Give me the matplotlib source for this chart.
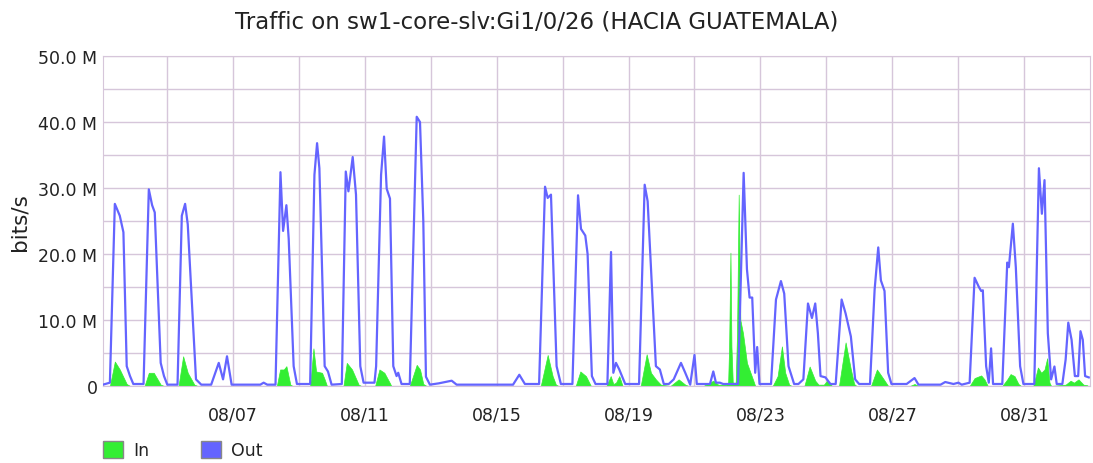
import matplotlib
matplotlib.use("Agg")
import matplotlib.pyplot as plt
from matplotlib.patches import Patch
import numpy as np

# time axis in days of August, values in Mbit/s
out_days = [3.07, 3.28, 3.43, 3.58, 3.69, 3.79, 3.89, 3.99, 4.30, 4.46, 4.56, 4.64, 4.82, 4.92,
            5.02, 5.33, 5.46, 5.56, 5.64, 5.89, 6.05, 6.35, 6.58, 6.71, 6.83, 6.97, 7.84, 7.94,
            8.05, 8.30, 8.45, 8.53, 8.63, 8.70, 8.85, 8.95, 9.35, 9.48, 9.56, 9.63, 9.79, 9.89,
            10.00, 10.31, 10.43, 10.51, 10.64, 10.74, 10.87, 10.97, 11.30, 11.35, 11.50, 11.59,
            11.67, 11.77, 11.87, 11.97, 12.02, 12.12, 12.37, 12.58, 12.68, 12.78, 12.86, 12.98,
            13.25, 13.45, 13.64, 13.79, 15.50, 15.69, 15.86, 16.29, 16.47, 16.55, 16.65, 16.82,
            16.95, 17.30, 17.47, 17.56, 17.69, 17.76, 17.89, 18.00, 18.36, 18.47, 18.54, 18.62,
            18.72, 18.90, 19.32, 19.49, 19.58, 19.83, 19.95, 20.07, 20.22, 20.37, 20.59, 20.72,
            20.87, 21.00, 21.07, 21.47, 21.57, 21.65, 21.77, 21.87, 22.32, 22.49, 22.59, 22.67,
            22.75, 22.84, 22.90, 22.97, 23.32, 23.47, 23.62, 23.72, 23.85, 24.02, 24.15, 24.30,
            24.44, 24.56, 24.66, 24.74, 24.82, 24.97, 25.12, 25.28, 25.46, 25.58, 25.74, 25.87,
            25.99, 26.32, 26.46, 26.57, 26.65, 26.76, 26.87, 26.97, 27.43, 27.67, 27.79, 28.46,
            28.60, 28.85, 29.00, 29.10, 29.34, 29.49, 29.62, 29.69, 29.74, 29.84, 29.92, 29.99,
            30.05, 30.33, 30.48, 30.53, 30.65, 30.74, 30.87, 30.97, 31.30, 31.44, 31.53, 31.61,
            31.71, 31.81, 31.91, 31.98, 32.15, 32.25, 32.33, 32.43, 32.53, 32.63, 32.70, 32.77,
            32.84, 32.95]
out_vals = [0.2, 0.5, 27.6, 25.8, 23.3, 3.0, 1.5, 0.3, 0.3, 29.8, 27.4, 26.3, 3.5, 1.5,
            0.2, 0.2, 25.8, 27.6, 24.5, 1.0, 0.2, 0.2, 3.5, 1.0, 4.5, 0.2, 0.2, 0.5,
            0.2, 0.2, 32.4, 23.5, 27.4, 22.3, 3.0, 0.3, 0.3, 32.0, 36.8, 33.0, 3.0, 2.2,
            0.2, 0.3, 32.5, 29.5, 34.7, 29.0, 3.0, 0.5, 0.5, 3.0, 32.0, 37.8,
            29.9, 28.4, 3.0, 1.5, 2.0, 0.3, 0.3, 40.8, 40.0, 25.0, 1.4, 0.2,
            0.4, 0.6, 0.8, 0.2, 0.2, 1.7, 0.3, 0.3, 30.2, 28.5, 29.0, 3.0,
            0.3, 0.3, 28.9, 23.8, 22.8, 20.0, 1.5, 0.3, 0.3, 20.3, 2.0, 3.5,
            2.5, 0.3, 0.3, 30.5, 28.0, 3.0, 2.5, 0.3, 0.3, 1.0, 3.5, 2.0,
            0.2, 4.7, 0.3, 0.3, 2.2, 0.5, 0.5, 0.3, 0.3, 32.3, 17.7, 13.4,
            13.4, 2.0, 5.9, 0.3, 0.3, 13.1, 15.9, 14.0, 3.0, 0.3, 0.3, 1.0,
            12.5, 10.3, 12.5, 8.0, 1.5, 1.3, 0.3, 0.3, 13.1, 11.0, 7.5, 1.0,
            0.3, 0.3, 14.6, 21.0, 16.0, 14.4, 2.0, 0.3, 0.3, 1.2, 0.2, 0.2,
            0.6, 0.3, 0.5, 0.2, 0.5, 16.4, 15.0, 14.4, 14.5, 3.0, 0.5, 5.7,
            0.3, 0.3, 18.7, 18.0, 24.6, 18.0, 3.0, 0.3, 0.3, 33.0, 26.1, 31.2,
            8.0, 1.0, 2.95, 0.3, 0.3, 4.0, 9.6, 7.0, 1.5, 1.5, 8.3, 7.0,
            1.5, 1.3]

in_days = [3.07, 3.28, 3.43, 3.58, 3.79, 3.89, 4.33, 4.46, 4.61, 4.82, 4.92, 5.36, 5.50, 5.64,
           5.84, 5.94, 8.34, 8.44, 8.55, 8.63, 8.75, 8.82, 9.35, 9.45, 9.53, 9.71, 9.79, 9.86,
           10.36, 10.46, 10.62, 10.82, 10.90, 11.32, 11.45, 11.60, 11.76, 11.81, 12.37, 12.58,
           12.68, 12.78, 12.88, 16.34, 16.55, 16.70, 16.80, 16.88, 17.40, 17.54, 17.71, 17.86,
           18.33, 18.46, 18.54, 18.62, 18.72, 18.82, 19.37, 19.55, 19.68, 19.83, 19.98, 20.27,
           20.52, 20.72, 20.82, 21.27, 21.57, 21.72, 21.97, 22.02, 22.05, 22.09, 22.12, 22.16,
           22.25, 22.29, 22.34, 22.39, 22.47, 22.59, 22.77, 22.84, 23.37, 23.52, 23.65, 23.75,
           23.87, 23.95, 24.33, 24.49, 24.66, 24.76, 24.92, 25.02, 25.17, 25.38, 25.58, 25.74,
           25.84, 25.91, 26.35, 26.53, 26.71, 26.87, 27.53, 27.67, 27.79, 29.34, 29.49, 29.69,
           29.79, 29.89, 30.33, 30.48, 30.58, 30.70, 30.82, 30.90, 31.27, 31.41, 31.51, 31.61,
           31.69, 31.76, 31.81, 32.25, 32.40, 32.50, 32.64, 32.79, 32.91]
in_vals = [0, 0, 3.7, 2.5, 0.3, 0, 0, 2.0, 2.0, 0.2, 0, 0, 4.5, 2.0,
           0.2, 0, 0, 2.5, 2.5, 3.0, 0.2, 0, 0, 5.7, 2.2, 2.0, 1.0, 0,
           0, 3.5, 2.5, 0.2, 0, 0, 2.5, 2.0, 0.5, 0, 0, 3.2,
           2.5, 0.3, 0, 0, 4.7, 1.5, 0.2, 0, 0, 2.2, 1.5, 0,
           0, 1.5, 0.3, 0.5, 1.5, 0, 0, 4.8, 2.0, 1.0, 0.2, 0,
           1.0, 0.2, 0, 0, 0.8, 0.2, 0.2, 0.5, 6.0, 20.2, 6.0, 0.5,
           0.5, 8.0, 29.0, 10.0, 8.0, 3.5, 1.0, 0, 0, 1.5, 6.0, 2.0,
           0.2, 0, 0, 2.95, 0.8, 0.2, 0.2, 0.8, 0, 0, 6.6, 2.5,
           0.3, 0, 0, 2.5, 1.2, 0, 0, 0.3, 0, 0, 1.2, 1.6,
           1.0, 0, 0, 1.0, 1.8, 1.5, 0.3, 0, 0, 2.8, 2.0, 2.5,
           4.2, 0.5, 0, 0.2, 0.8, 0.5, 1.0, 0.2, 0.1]

label_days = [7, 11, 15, 19, 23, 27, 31]
y_ticks = [0, 10, 20, 30, 40, 50]

grid_col = "#d6c6da"
in_col = "#33ee33"
out_col = "#6464ff"

fig = plt.figure(figsize=(10.93, 4.64), dpi=100)
ax = fig.add_axes([0.0942, 0.166, 0.9028, 0.711])

ax.fill_between(np.array(in_days), np.array(in_vals) * 1e6, 0, color=in_col, lw=0.5, zorder=2)
ax.plot(np.array(out_days), np.array(out_vals) * 1e6, color=out_col, lw=1.6, zorder=3)

ax.set_xlim(3.07, 32.98)
ax.set_ylim(0, 50e6)

ax.set_xticks(label_days)
ax.set_xticklabels(["08/%02d" % d for d in label_days])
ax.set_xticks(np.arange(5, 33, 2), minor=True)
ax.set_yticks([v * 1e6 for v in y_ticks])
ax.set_yticklabels(["0" if v == 0 else "%.1f M" % v for v in y_ticks])
ax.set_yticks(np.arange(5, 50, 10) * 1e6, minor=True)

ax.grid(True, which="both", color=grid_col, lw=1, zorder=0)
ax.set_axisbelow(True)
ax.tick_params(which="both", length=0, labelsize=12.5, colors="#222222")
ax.tick_params(axis="x", pad=14)
ax.tick_params(axis="y", pad=4)
for s in ax.spines.values():
    s.set_color(grid_col)

ax.set_ylabel("bits/s", fontsize=15.5, color="#222222", labelpad=6)
fig.text(0.491, 0.953, "Traffic on sw1-core-slv:Gi1/0/26 (HACIA GUATEMALA)",
         ha="center", va="center", fontsize=16.5, color="#222222")

handles = [Patch(facecolor=in_col, edgecolor="#888888", label="In"),
           Patch(facecolor=out_col, edgecolor="#888888", label="Out")]
fig.legend(handles=handles, loc="center left", bbox_to_anchor=(0.080, 0.028), ncol=2,
           frameon=False, fontsize=12.5, handlelength=1.15, handleheight=1.15,
           handletextpad=0.6, columnspacing=2.95, labelcolor="#222222")

fig.savefig("out.png", dpi=100)
